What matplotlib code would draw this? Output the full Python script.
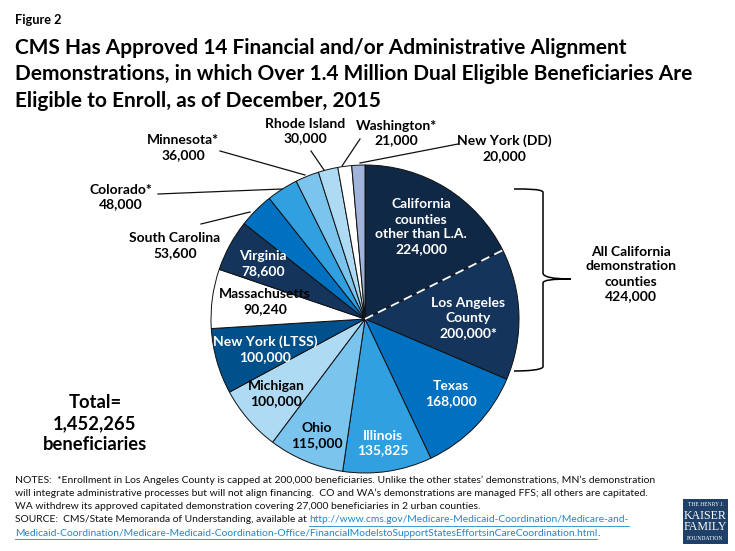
import matplotlib
matplotlib.use("Agg")
import numpy as np
import matplotlib.pyplot as plt
from matplotlib.path import Path
from matplotlib.patches import PathPatch, Rectangle

plt.rcParams['font.family'] = ['Lato', 'DejaVu Sans']

# wedge sizes, California wedge is drawn bigger than its label
states = ["California counties other than L.A.", "Los Angeles County", "Texas", "Illinois",
          "Ohio", "Michigan", "New York (LTSS)", "Massachusetts", "Virginia",
          "South Carolina", "Colorado*", "Minnesota*", "Rhode Island", "Washington*",
          "New York (DD)"]
wedge_values = [256000, 200000, 168000, 135825, 115000, 100000, 100000, 90240, 78600,
                53600, 48000, 36000, 30000, 21000, 20000]
colors = ["#0F2846", "#14345C", "#0070C0", "#30A0E0", "#7AC4EE", "#AEDBF3", "#00508C",
          "#FFFFFF", "#14345C", "#0070C0", "#30A0E0", "#7AC4EE", "#AEDBF3", "#FFFFFF",
          "#9FB3DC"]

W, H = 735, 551
CX, CY, R = 365, 319, 154
LINK = "#1F86CC"


def Y(y):
    return H - y


fig = plt.figure(figsize=(7.35, 5.51), dpi=100, facecolor="white")
ax = fig.add_axes([0, 0, 1, 1])

wedges, _ = ax.pie(wedge_values, colors=colors, startangle=90, counterclock=False,
                   center=(CX, Y(CY)), radius=R,
                   wedgeprops=dict(edgecolor="#101010", linewidth=0.7))
ax.set_xlim(0, W)
ax.set_ylim(0, H)
ax.set_aspect("equal")
ax.axis("off")

# white dashed divider between the two California wedges
ang = np.deg2rad(wedges[0].theta1)
ax.plot([CX, CX + R * np.cos(ang)], [Y(CY), Y(CY) + R * np.sin(ang)],
        color="white", lw=1.3, dashes=(5, 3), zorder=5)

# header
ax.text(15, Y(20), "Figure 2", fontsize=9.2, fontweight="bold", va="center", color="black")
title_lines = ["CMS Has Approved 14 Financial and/or Administrative Alignment",
               "Demonstrations, in which Over 1.4 Million Dual Eligible Beneficiaries Are",
               "Eligible to Enroll, as of December, 2015"]
for i, line in enumerate(title_lines):
    ax.text(15, Y(48 + i * 26.5), line, fontsize=15.0, fontweight="bold", va="center", color="black")

# labels on and around the pie: text, x, y, colour
labels = [
    ("California\ncounties\nother than L.A.\n224,000", 421, 227, "white"),
    ("Los Angeles\nCounty\n200,000*", 468, 318, "white"),
    ("Texas\n168,000", 451, 394, "white"),
    ("Illinois\n135,825", 383, 443, "white"),
    ("Ohio\n115,000", 317, 436, "black"),
    ("Michigan\n100,000", 276, 394, "black"),
    ("New York (LTSS)\n100,000", 265, 349, "white"),
    ("Massachusetts\n90,240", 265, 302, "black"),
    ("Virginia\n78,600", 263, 264, "white"),
    ("South Carolina\n53,600", 175, 246, "black"),
    ("Colorado*\n48,000", 121, 197, "black"),
    ("Minnesota*\n36,000", 183, 148, "black"),
    ("Rhode Island\n30,000", 305, 131, "black"),
    ("Washington*\n21,000", 396, 133, "black"),
    ("New York (DD)\n20,000", 504, 148, "black"),
    ("All California\ndemonstration\ncounties\n424,000", 631, 274, "black"),
]
for text, x, y, col in labels:
    ax.text(x, Y(y), text, fontsize=10, fontweight="bold", color=col, ha="center", va="center",
            linespacing=1.3, zorder=6)

ax.text(95, Y(423.5), "Total=\n1,452,265\nbeneficiaries", fontsize=13.2, fontweight="bold",
        ha="center", va="center", linespacing=1.32)

# leader lines
leaders = [
    ((201, 224), (250, 212)),
    ((158, 194), (282, 189)),
    ((220, 151), (305, 175)),
    ((311, 151), (324, 170)),
    ((360, 139), (342, 166)),
    ((458, 144), (360, 163)),
]
for (x0, y0), (x1, y1) in leaders:
    ax.plot([x0, x1], [Y(y0), Y(y1)], color="#101010", lw=0.9)

# curly brace for the two California wedges
bx = 543
verts = [(514, 189), (528, 189), (bx - 2, 189), (bx, 192),
         (bx, 220), (bx, 250), (bx, 273),
         (bx, 277), (553, 279), (571, 279),
         (553, 279), (bx, 280), (bx, 283),
         (bx, 310), (bx, 340), (bx, 367),
         (bx - 2, 370), (528, 371), (514, 371)]
codes = [Path.MOVETO] + [Path.CURVE4] * 18
brace = PathPatch(Path([(x, Y(y)) for x, y in verts], codes), facecolor="none",
                  edgecolor="black", lw=1.1)
ax.add_patch(brace)

# footnotes
notes = [
    "NOTES:  *Enrollment in Los Angeles County is capped at 200,000 beneficiaries. Unlike the other states\u2019 demonstrations, MN\u2019s demonstration",
    "will integrate administrative processes but will not align financing.  CO and WA\u2019s demonstrations are managed FFS; all others are capitated.",
    "WA withdrew its approved capitated demonstration covering 27,000 beneficiaries in 2 urban counties.",
]
for i, line in enumerate(notes):
    ax.text(15, Y(480 + i * 13.4), line, fontsize=7.45, va="center", color="#111111")
src = ax.text(15, Y(520), "SOURCE:  CMS/State Memoranda of Understanding, available at ",
              fontsize=7.35, va="center", color="#111111")
fig.canvas.draw()
bb = src.get_window_extent()
link1 = "http://www.cms.gov/Medicare-Medicaid-Coordination/Medicare-and-"
link2 = "Medicaid-Coordination/Medicare-Medicaid-Coordination-Office/FinancialModelstoSupportStatesEffortsinCareCoordination.html"
t1 = ax.text(bb.x1, Y(520), link1, fontsize=7.4, va="center", color=LINK)
t2 = ax.text(15, Y(533.4), link2, fontsize=7.4, va="center", color=LINK)
fig.canvas.draw()
for t, yy in ((t1, 525.5), (t2, 539)):
    b = t.get_window_extent()
    ax.plot([b.x0, b.x1], [Y(yy), Y(yy)], color=LINK, lw=0.6)
ax.text(t2.get_window_extent().x1, Y(533.4), ".", fontsize=7.4, va="center", color="#111111")

# foundation logo
ax.add_patch(Rectangle((683, Y(544)), 45, 45, facecolor="#1F4068", edgecolor="none"))
logo_lines = [("THE HENRY J.", 4.1, 505), ("KAISER", 8.6, 516), ("FAMILY", 8.6, 527), ("FOUNDATION", 4.1, 539)]
for text, size, y in logo_lines:
    ax.text(705.5, Y(y), text, fontsize=size, family="Liberation Serif", color="white",
            ha="center", va="center")

fig.savefig("out.png", dpi=100, facecolor="white")
